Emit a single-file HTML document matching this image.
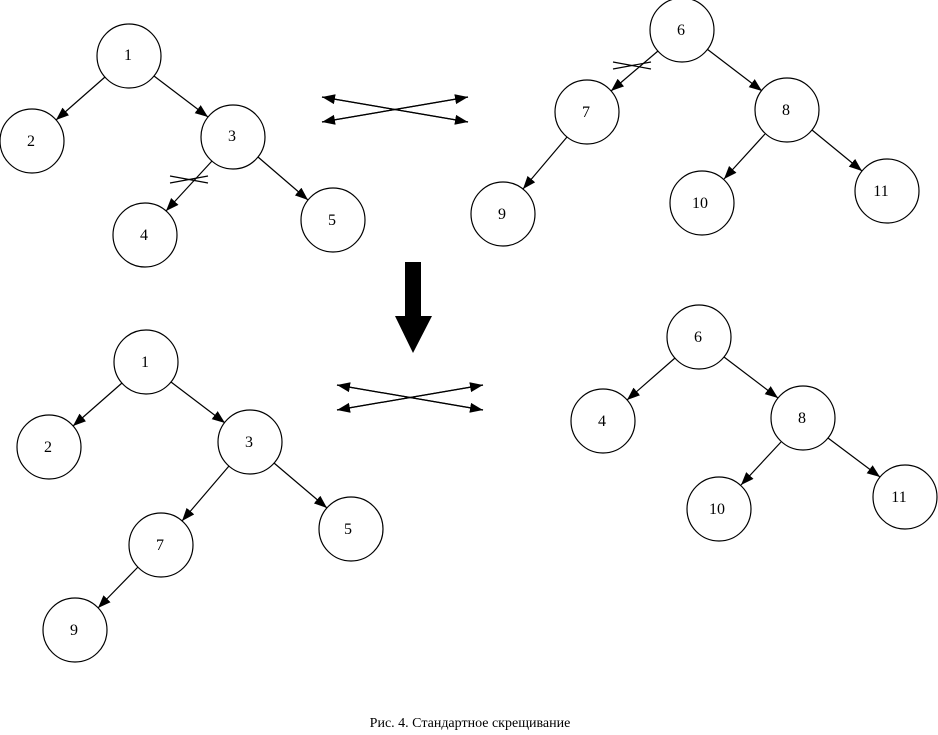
<!DOCTYPE html>
<html><head><meta charset="utf-8"><style>
html,body{margin:0;padding:0;background:#fff;}
svg{display:block;}
text{font-family:"Liberation Serif",serif;font-size:16px;fill:#000;}
</style></head><body>
<svg width="938" height="735" viewBox="0 0 938 735" xmlns="http://www.w3.org/2000/svg">
<defs>
<marker id="a" markerUnits="userSpaceOnUse" markerWidth="14" markerHeight="12" refX="13" refY="5" orient="auto">
<path d="M0,0 L13,5 L0,10 Z" fill="#000"/>
</marker>
</defs>
<g stroke="#000" stroke-width="1.2" fill="none" marker-end="url(#a)">
<!-- top-left -->
<line x1="105" y1="77" x2="56" y2="120"/>
<line x1="154" y1="76" x2="208" y2="117"/>
<line x1="212" y1="161" x2="166" y2="211"/>
<line x1="258" y1="157" x2="308" y2="200"/>
<!-- top-right -->
<line x1="658" y1="51" x2="611" y2="91"/>
<line x1="707" y1="49" x2="762" y2="91"/>
<line x1="567" y1="137" x2="523" y2="189"/>
<line x1="765" y1="134" x2="724" y2="179"/>
<line x1="812" y1="130" x2="862" y2="171"/>
<!-- bottom-left -->
<line x1="122" y1="383" x2="73" y2="426"/>
<line x1="171" y1="382" x2="225" y2="423"/>
<line x1="229" y1="466" x2="182" y2="521"/>
<line x1="274" y1="463" x2="327" y2="508"/>
<line x1="138" y1="567" x2="98" y2="608"/>
<!-- bottom-right -->
<line x1="675" y1="358" x2="627" y2="400"/>
<line x1="724" y1="357" x2="778" y2="398"/>
<line x1="781" y1="442" x2="741" y2="485"/>
<line x1="828" y1="438" x2="880" y2="477"/>
<!-- crosses -->
<line x1="322" y1="97" x2="468" y2="122"/>
<line x1="468" y1="122" x2="322" y2="97"/>
<line x1="322" y1="122" x2="468" y2="97"/>
<line x1="468" y1="97" x2="322" y2="122"/>
<line x1="337" y1="385" x2="483" y2="410"/>
<line x1="483" y1="410" x2="337" y2="385"/>
<line x1="337" y1="410" x2="483" y2="385"/>
<line x1="483" y1="385" x2="337" y2="410"/>
</g>
<!-- cut marks -->
<g stroke="#000" stroke-width="1.2">
<line x1="170" y1="176" x2="208" y2="183"/>
<line x1="170" y1="183" x2="208" y2="176"/>
<line x1="613" y1="62" x2="651" y2="69"/>
<line x1="613" y1="69" x2="651" y2="62"/>
</g>
<!-- big arrow -->
<path d="M405,262 L421,262 L421,316 L432,316 L413,353 L395,316 L405,316 Z" fill="#000"/>
<g stroke="#000" stroke-width="1.2" fill="#fff">
<circle cx="129" cy="56" r="32"/><circle cx="32" cy="141" r="32"/><circle cx="233" cy="137" r="32"/>
<circle cx="145" cy="235" r="32"/><circle cx="333" cy="220" r="32"/>
<circle cx="682" cy="30" r="32"/><circle cx="587" cy="112" r="32"/><circle cx="787" cy="110" r="32"/>
<circle cx="503" cy="214" r="32"/><circle cx="702" cy="203" r="32"/><circle cx="887" cy="191" r="32"/>
<circle cx="146" cy="362" r="32"/><circle cx="49" cy="447" r="32"/><circle cx="250" cy="442" r="32"/>
<circle cx="161" cy="545" r="32"/><circle cx="351" cy="529" r="32"/><circle cx="75" cy="630" r="32"/>
<circle cx="699" cy="337" r="32"/><circle cx="603" cy="421" r="32"/><circle cx="803" cy="418" r="32"/>
<circle cx="719" cy="509" r="32"/><circle cx="905" cy="497" r="32"/>
</g>
<g text-anchor="middle">
<text x="128" y="60">1</text><text x="31" y="146">2</text><text x="232" y="141">3</text>
<text x="144" y="240">4</text><text x="332" y="225">5</text>
<text x="681" y="35">6</text><text x="586" y="117">7</text><text x="786" y="115">8</text>
<text x="502" y="219">9</text><text x="700" y="208">10</text><text x="881" y="196">11</text>
<text x="145" y="367">1</text><text x="48" y="452">2</text><text x="249" y="447">3</text>
<text x="160" y="550">7</text><text x="348" y="534">5</text><text x="74" y="635">9</text>
<text x="698" y="342">6</text><text x="602" y="426">4</text><text x="802" y="423">8</text>
<text x="717" y="514">10</text><text x="899" y="502">11</text>
</g>
<text x="470" y="727" text-anchor="middle" style="font-size:14px">Рис. 4. Стандартное скрещивание</text>
</svg>
</body></html>
